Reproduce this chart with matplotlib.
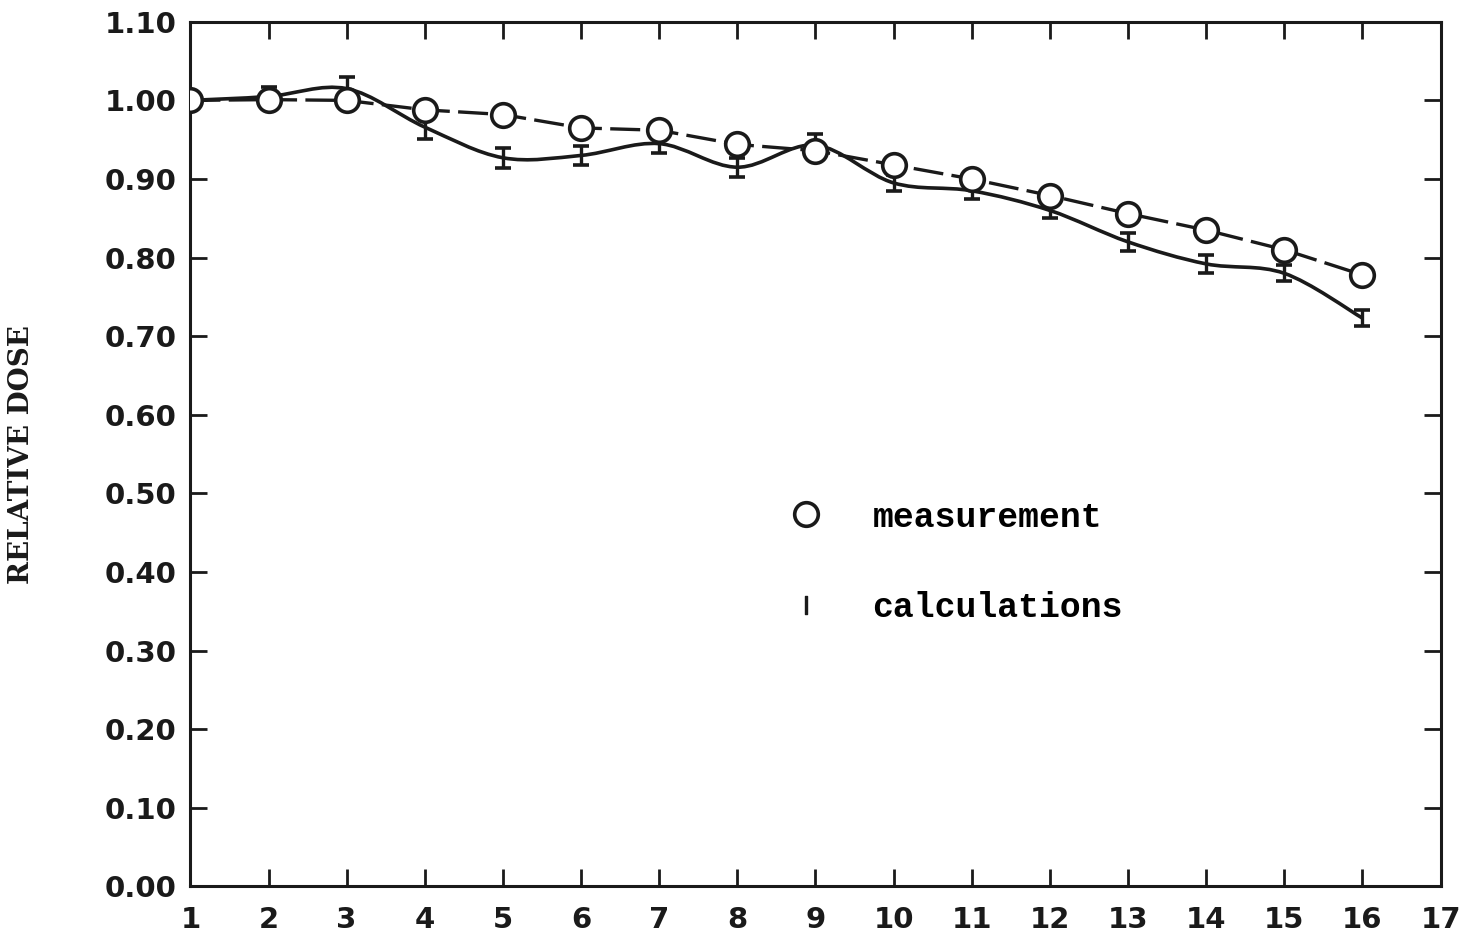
import matplotlib.pyplot as plt
import numpy as np
from matplotlib.path import Path
from matplotlib.patches import PathPatch
from matplotlib.lines import Line2D

# positions along the profile
positions = [1, 2, 3, 4, 5, 6, 7, 8, 9, 10, 11, 12, 13, 14, 15, 16]

# measured relative dose (circles)
measurement = [1.000, 1.001, 1.000, 0.988, 0.982, 0.965, 0.962, 0.944,
               0.936, 0.918, 0.900, 0.879, 0.856, 0.835, 0.810, 0.778]

# calculated relative dose and its uncertainty
calculations = [1.000, 1.005, 1.015, 0.966, 0.927, 0.930, 0.945, 0.915,
                0.943, 0.895, 0.885, 0.860, 0.820, 0.792, 0.780, 0.723]
calc_err = [0.012, 0.012, 0.015, 0.015, 0.013, 0.012, 0.012, 0.012,
            0.014, 0.010, 0.010, 0.010, 0.011, 0.011, 0.010, 0.010]

x_ticks = list(range(1, 18))
y_ticks = [0.0, 0.1, 0.2, 0.3, 0.4, 0.5, 0.6, 0.7, 0.8, 0.9, 1.0, 1.1]

fig = plt.figure(figsize=(14.76, 9.48), dpi=100)
ax = fig.add_axes([0.129, 0.065, 0.847, 0.912])

# smooth curve through the calculated points (Catmull-Rom as cubic Bezier)
xs = np.array(positions, dtype=float)
ys = np.array(calculations, dtype=float)
verts = [(xs[0], ys[0])]
codes = [Path.MOVETO]
for i in range(len(xs) - 1):
    x0, y0 = (xs[i - 1], ys[i - 1]) if i > 0 else (xs[i], ys[i])
    x1, y1 = xs[i], ys[i]
    x2, y2 = xs[i + 1], ys[i + 1]
    x3, y3 = (xs[i + 2], ys[i + 2]) if i + 2 < len(xs) else (x2, y2)
    verts += [(x1 + (x2 - x0) / 6, y1 + (y2 - y0) / 6),
              (x2 - (x3 - x1) / 6, y2 - (y3 - y1) / 6),
              (x2, y2)]
    codes += [Path.CURVE4] * 3
ax.add_patch(PathPatch(Path(verts, codes), facecolor="none",
                       edgecolor="#1a1a1a", lw=2.6, zorder=2))

ax.errorbar(positions, calculations, yerr=calc_err, fmt="none",
            ecolor="#1a1a1a", elinewidth=2.4, capsize=6, capthick=2.6, zorder=3)

ax.plot(positions, measurement, color="#1a1a1a", lw=2.4,
        linestyle=(0, (9, 2.5)), marker="o", ms=17, mfc="white",
        mec="#1a1a1a", mew=2.6, zorder=4)

ax.set_xlim(1, 17)
ax.set_ylim(0, 1.10)
ax.set_xticks(x_ticks)
ax.set_xticklabels([str(t) for t in x_ticks])
ax.set_yticks(y_ticks)
ax.set_yticklabels([f"{t:.2f}" for t in y_ticks])
ax.tick_params(direction="in", length=12, width=2, top=True, right=True,
               labelsize=21, colors="#1a1a1a")
ax.tick_params(axis="x", pad=14)
ax.tick_params(axis="y", pad=10)
for lab in ax.get_xticklabels() + ax.get_yticklabels():
    lab.set_fontweight("bold")
for sp in ax.spines.values():
    sp.set_linewidth(2.2)
    sp.set_color("#1a1a1a")

ax.set_ylabel("RELATIVE DOSE", fontsize=20, fontweight="bold",
              family="DejaVu Serif", labelpad=50, color="#1a1a1a")

handles = [
    Line2D([], [], ls="none", marker="o", ms=17, mfc="white",
           mec="#1a1a1a", mew=2.6),
    Line2D([], [], ls="none", marker="$\\mathrm{I}$", ms=13,
           color="#1a1a1a"),
]
ax.legend(handles, ["measurement", "calculations"], loc="center left",
          bbox_to_anchor=(0.44, 0.375), frameon=False, labelspacing=1.65,
          handletextpad=0.9, prop={"family": "Liberation Mono",
                                   "weight": "bold", "size": 25})

fig.savefig("out.png", dpi=100, facecolor="white")
